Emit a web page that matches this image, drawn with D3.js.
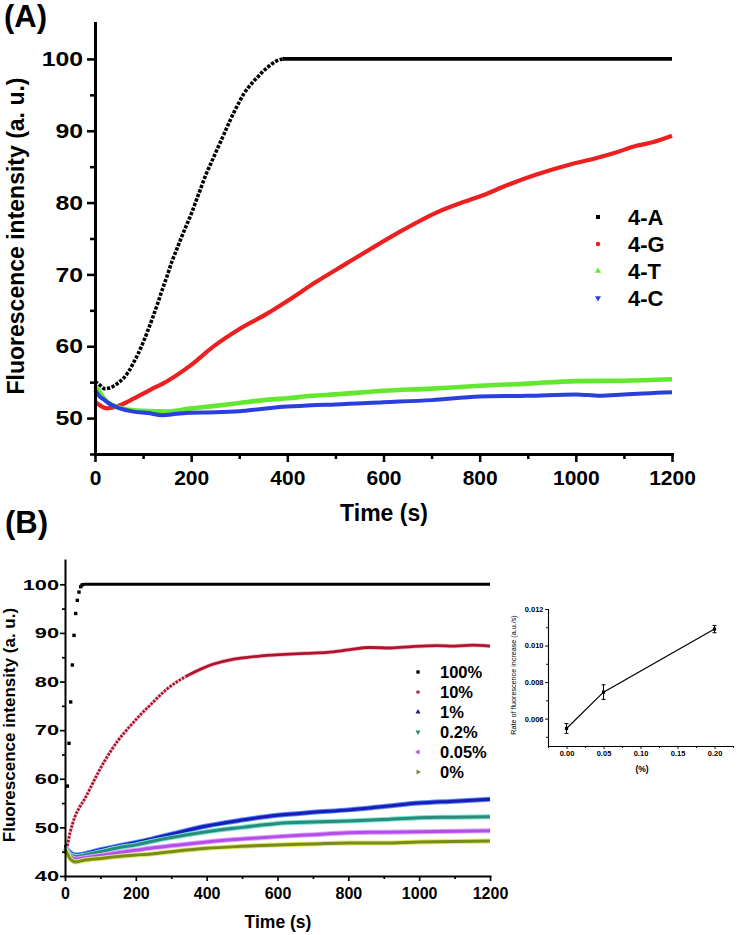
<!DOCTYPE html>
<html><head><meta charset="utf-8">
<script src="https://cdn.jsdelivr.net/npm/d3@7"></script>
<style>
body{margin:0;background:#fff;}
text{font-family:"Liberation Sans",Arial,sans-serif;}
</style></head><body>
<svg id="c" width="737" height="935" xmlns="http://www.w3.org/2000/svg"></svg>
<script>
// ---------- Panel A data ----------
const seriesA = ["4-A", "4-G", "4-T", "4-C"];
const tA_black = [0,10,20,30,40,50,60,70,80,90,100,110,120,130,140,150,160,170,180,190,200,210,220,230,240,250,260,270,280,290,300,310,320,330,340,350,360,370,380,390,400,600,800,1000,1200];
const vA_black = [55.1,54.6,54.1,54.2,54.5,55.0,55.6,56.5,57.7,59.0,60.5,62.2,64.0,65.9,67.9,69.8,71.8,73.5,75.2,76.8,78.4,80.2,82.0,83.8,85.3,86.8,88.3,89.8,91.3,92.7,94.0,95.2,96.1,96.9,97.6,98.3,98.9,99.4,99.8,100,100,100,100,100,100];
const tA_red = [0,12,24,40,52,80,114,149,198,246,298,357,400,461,520,572,641,710,780,814,849,918,988,1043,1080,1126,1160,1200];
const vA_red = [52.3,51.7,51.35,51.5,51.8,52.7,53.9,55.1,57.3,59.95,62.3,64.5,66.3,69.0,71.4,73.5,76.2,78.6,80.4,81.2,82.2,83.9,85.3,86.2,86.9,87.9,88.4,89.3];
const tA_green = [0,10,20,40,60,100,150,200,250,300,350,400,450,500,550,600,700,750,800,900,1000,1100,1200];
const vA_green = [54.5,53.6,52.6,51.7,51.3,51.0,50.9,51.35,51.7,52.1,52.5,52.75,53.1,53.3,53.55,53.8,54.1,54.3,54.5,54.8,55.15,55.2,55.4];
const tA_blue = [0,10,20,30,50,80,110,140,170,200,250,300,350,400,450,500,600,700,800,900,1000,1050,1100,1200];
const vA_blue = [53.9,53.0,52.5,52.0,51.4,50.9,50.7,50.4,50.6,50.75,50.8,50.95,51.3,51.6,51.8,51.9,52.2,52.5,53.0,53.1,53.3,53.1,53.3,53.6];
const xTicksA = [0,200,400,600,800,1000,1200];
const xMinorA = [100,300,500,700,900,1100];
const yTicksA = [50,60,70,80,90,100];
const yMinorA = [45,55,65,75,85,95];

// ---------- Panel B data ----------
const seriesB = ["100%", "10%", "1%", "0.2%", "0.05%", "0%"];
const tB_100 = [2,6.6,11.3,16,20.7,25.4,30.1,34.8,39.5,44.2,48.9,53.6,1200];
const vB_100 = [46,58.5,67.3,75.8,83.4,89.5,94,96.7,98.4,99.5,99.9,100,100];
const tB_10 = [0,5,14,28,40,56,75,94,113,132,150,169,192,216,240,263,287,311,340,370,420,470,520,570,620,680,740,800,860,920,980,1050,1100,1150,1200];
const vB_10 = [45.6,46,48.8,52.2,54,55.9,58.6,61.3,63.8,66,67.9,69.6,71.5,73.4,75.1,76.8,78.4,79.7,81,82.1,83.6,84.5,85,85.4,85.6,85.8,86,86.5,87,86.9,87.2,87.4,87.3,87.5,87.3];
const tB_low = [0,5,15,30,50,100,150,200,250,300,400,500,600,700,800,900,1000,1100,1200];
const vB_1   = [45.8,45.5,44.8,44.3,44.5,45.4,46.2,46.9,47.7,48.6,50.3,51.5,52.5,53.1,53.6,54.3,55.0,55.4,55.8];
const vB_02  = [45.8,45.3,44.4,44.0,44.2,45.0,45.8,46.4,47.2,47.9,49.1,50.0,50.8,51.1,51.3,51.6,52.0,52.1,52.2];
const vB_005 = [45.6,45.0,44.0,43.5,43.7,44.2,44.8,45.3,45.8,46.2,47.0,47.6,48.1,48.5,48.9,49.0,49.1,49.2,49.3];
const vB_0   = [45.5,44.8,43.5,42.9,43.2,43.6,44.0,44.3,44.6,45.0,45.7,46.1,46.4,46.6,46.8,46.8,47.0,47.1,47.2];
const xTicksB = [0,200,400,600,800,1000,1200];
const xMinorB = [100,300,500,700,900,1100];
const yTicksB = [40,50,60,70,80,90,100];
const yMinorB = [45,55,65,75,85,95];

// ---------- Inset data ----------
const inX = [0, 0.05, 0.20];
const inY = [0.00546, 0.00745, 0.0109];
const inErr = [0.00027, 0.0004, 0.0002];
const inXTicks = [0, 0.05, 0.10, 0.15, 0.20];
const inXMinor = [-0.025, 0.025, 0.075, 0.125, 0.175, 0.225];
const inYTicks = [0.006, 0.008, 0.010, 0.012];
const inYMinor = [0.005, 0.007, 0.009, 0.011];

const svg = d3.select("#c");
const zip = (t, v) => t.map((d, i) => ({t: d, v: v[i]}));

function axis(g, gen, scale, majors, minors, fmt, major, minor, pad, sw, fs) {
  g.call(gen(scale).tickValues(majors).tickSize(major).tickSizeOuter(0).tickPadding(pad).tickFormat(fmt));
  g.select(".domain").attr("stroke-width", sw).attr("stroke-linecap", "square");
  g.selectAll(".tick line").attr("stroke-width", sw * 0.85);
  g.selectAll("text").attr("font-size", fs).attr("font-weight", "bold").attr("fill", "#000")
    .style("font-family", '"Liberation Sans",Arial,sans-serif');
  const m = g.append("g").call(gen(scale).tickValues(minors).tickSize(minor).tickSizeOuter(0).tickFormat(""));
  m.select(".domain").remove();
  m.selectAll(".tick line").attr("stroke-width", sw * 0.85);
}
function stretch(g, s, gap) {
  g.selectAll(".tick text").attr("x", -gap / s).attr("transform", `scale(${s},1)`);
}

// ================= Panel A =================
const xA = d3.scaleLinear().domain([0, 1200]).range([95, 672]);
const yA = d3.scaleLinear().domain([45, 105]).range([454, 23]);
const lineA = d3.line().x(d => xA(d.t)).y(d => yA(d.v)).curve(d3.curveMonotoneX);

const gA = svg.append("g");
const blackA = zip(tA_black, vA_black);
gA.append("path").datum(blackA.filter(d => d.t <= 390)).attr("d", lineA)
  .attr("fill", "none").attr("stroke", "#000").attr("stroke-width", 3.6).attr("stroke-dasharray", "3.3,1.5");
gA.append("path").datum(blackA.filter(d => d.t >= 385)).attr("d", lineA)
  .attr("fill", "none").attr("stroke", "#000").attr("stroke-width", 3.6);
gA.append("path").datum(zip(tA_red, vA_red)).attr("d", lineA)
  .attr("fill", "none").attr("stroke", "#ec2020").attr("stroke-width", 4.2);
gA.append("path").datum(zip(tA_green, vA_green)).attr("d", lineA)
  .attr("fill", "none").attr("stroke", "#63e830").attr("stroke-width", 4.6);
gA.append("path").datum(zip(tA_blue, vA_blue)).attr("d", lineA)
  .attr("fill", "none").attr("stroke", "#2b3fdc").attr("stroke-width", 4.0);

const axAx = gA.append("g").attr("transform", "translate(0,454)");
axis(axAx, d3.axisBottom, xA, xTicksA, xMinorA, d3.format("d"), 8, 5, 8, 3, 21);
const axAy = gA.append("g").attr("transform", "translate(95,0)");
axis(axAy, d3.axisLeft, yA, yTicksA, yMinorA, d3.format("d"), 8, 5, 4, 3, 21);
stretch(axAy, 1.18, 12);

gA.append("text").attr("x", 384).attr("y", 521).attr("text-anchor", "middle")
  .attr("font-size", 23).attr("font-weight", "bold").text("Time (s)");
gA.append("text").attr("transform", "translate(24,236) rotate(-90)").attr("text-anchor", "middle")
  .attr("font-size", 23).attr("font-weight", "bold").text("Fluorescence intensity (a. u.)");
gA.append("text").attr("x", 4).attr("y", 27).attr("font-size", 31).attr("font-weight", "bold").text("(A)");

const legA = [
  {sym: d3.symbolSquare, rot: 0, col: "#000"},
  {sym: d3.symbolCircle, rot: 0, col: "#ec2020"},
  {sym: d3.symbolTriangle, rot: 0, col: "#63e830"},
  {sym: d3.symbolTriangle, rot: 180, col: "#2b3fdc"}
];
seriesA.forEach((name, i) => {
  const cy = 217 + i * 27;
  gA.append("path").attr("d", d3.symbol(legA[i].sym, 16)())
    .attr("transform", `translate(598,${cy}) rotate(${legA[i].rot})`).attr("fill", legA[i].col);
  gA.append("text").attr("x", 628).attr("y", cy + 8).attr("font-size", 22).attr("font-weight", "bold").text(name);
});

// ================= Panel B =================
const xB = d3.scaleLinear().domain([0, 1200]).range([65, 490]);
const yB = d3.scaleLinear().domain([40, 105]).range([876, 560]);
const lineB = d3.line().x(d => xB(d.t)).y(d => yB(d.v)).curve(d3.curveMonotoneX);
const gB = svg.append("g");

// 100%
const b100 = zip(tB_100, vB_100);
gB.append("path").datum(b100.slice(9)).attr("d", lineB)
  .attr("fill", "none").attr("stroke", "#000").attr("stroke-width", 3);
gB.selectAll(".sq100").data(b100.slice(0, 11)).enter().append("rect")
  .attr("x", d => xB(d.t) - 1.7).attr("y", d => yB(d.v) - 1.7).attr("width", 3.4).attr("height", 3.4).attr("fill", "#000");

// 10%
const b10 = zip(tB_10, vB_10);
gB.append("path").datum(b10.filter(d => d.t >= 330)).attr("d", lineB)
  .attr("fill", "none").attr("stroke", "#f4a9bd").attr("stroke-width", 4.2).attr("stroke-opacity", 0.8);
gB.append("path").datum(b10.filter(d => d.t <= 340)).attr("d", lineB)
  .attr("fill", "none").attr("stroke", "#f6b6c6").attr("stroke-width", 3.6).attr("stroke-opacity", 0.6);
gB.append("path").datum(b10.filter(d => d.t <= 340)).attr("d", lineB)
  .attr("fill", "none").attr("stroke", "#a8122a").attr("stroke-width", 2.8).attr("stroke-dasharray", "2.4,1.3");
gB.append("path").datum(b10.filter(d => d.t >= 340)).attr("d", lineB)
  .attr("fill", "none").attr("stroke", "#b0142c").attr("stroke-width", 2.8);

const lows = [
  {v: vB_1, main: "#1c1cb4", halo: "#4f86ff"},
  {v: vB_02, main: "#2b8a78", halo: "#72e6d8"},
  {v: vB_005, main: "#b44ee8", halo: "#dfa6ff"},
  {v: vB_0, main: "#7b8a1c", halo: "#dcec66"}
];
lows.forEach(s => {
  const d = zip(tB_low, s.v);
  gB.append("path").datum(d).attr("d", lineB).attr("fill", "none").attr("stroke", s.halo).attr("stroke-width", 5);
  gB.append("path").datum(d).attr("d", lineB).attr("fill", "none").attr("stroke", s.main).attr("stroke-width", 3);
});

const axBx = gB.append("g").attr("transform", "translate(0,876)");
axis(axBx, d3.axisBottom, xB, xTicksB, xMinorB, d3.format("d"), 5, 3, 7, 2, 16);
const axBy = gB.append("g").attr("transform", "translate(65,0)");
axis(axBy, d3.axisLeft, yB, yTicksB, yMinorB, d3.format("d"), 5, 3, 2, 2, 15);
stretch(axBy, 1.45, 6);

gB.append("text").attr("x", 278).attr("y", 928).attr("text-anchor", "middle")
  .attr("font-size", 17.5).attr("font-weight", "bold").text("Time (s)");
gB.append("text").attr("transform", "translate(15,725) rotate(-90)").attr("text-anchor", "middle")
  .attr("font-size", 17).attr("font-weight", "bold").text("Fluorescence intensity (a. u.)");
gB.append("text").attr("x", 5).attr("y", 533).attr("font-size", 31).attr("font-weight", "bold").text("(B)");

const legB = [
  {sym: d3.symbolSquare, rot: 0, col: "#000"},
  {sym: d3.symbolCircle, rot: 0, col: "#a8325a"},
  {sym: d3.symbolTriangle, rot: 0, col: "#1f1f8a"},
  {sym: d3.symbolTriangle, rot: 180, col: "#2b8a78"},
  {sym: d3.symbolTriangle, rot: -90, col: "#b44ee8"},
  {sym: d3.symbolTriangle, rot: 90, col: "#6f8a3c"}
];
seriesB.forEach((name, i) => {
  const cy = 672 + i * 20;
  gB.append("path").attr("d", d3.symbol(legB[i].sym, 11)())
    .attr("transform", `translate(418,${cy}) rotate(${legB[i].rot})`).attr("fill", legB[i].col);
  gB.append("text").attr("x", 440).attr("y", cy + 6).attr("font-size", 16.5).attr("font-weight", "bold").text(name);
});

// ================= Inset =================
const xI = d3.scaleLinear().domain([-0.025, 0.225]).range([548, 733]);
const yI = d3.scaleLinear().domain([0.0045, 0.012]).range([746, 609]);
const gI = svg.append("g");
const inPts = inX.map((x, i) => ({x, y: inY[i], e: inErr[i]}));
gI.append("path").datum(inPts).attr("d", d3.line().x(d => xI(d.x)).y(d => yI(d.y)))
  .attr("fill", "none").attr("stroke", "#000").attr("stroke-width", 1.2);
inPts.forEach(p => {
  const x = xI(p.x), y1 = yI(p.y - p.e), y2 = yI(p.y + p.e);
  gI.append("line").attr("x1", x).attr("x2", x).attr("y1", y1).attr("y2", y2).attr("stroke", "#000").attr("stroke-width", 1);
  [y1, y2].forEach(yy => gI.append("line").attr("x1", x - 2).attr("x2", x + 2).attr("y1", yy).attr("y2", yy).attr("stroke", "#000").attr("stroke-width", 1));
  gI.append("rect").attr("x", x - 1.6).attr("y", yI(p.y) - 1.6).attr("width", 3.2).attr("height", 3.2).attr("fill", "#000");
});
const axIx = gI.append("g").attr("transform", "translate(0,746)");
axis(axIx, d3.axisBottom, xI, inXTicks, inXMinor, d3.format(".2f"), 3, 2, 2, 1.1, 7.5);
const axIy = gI.append("g").attr("transform", "translate(548,0)");
axis(axIy, d3.axisLeft, yI, inYTicks, inYMinor, d3.format(".3f"), 3, 2, 1.5, 1.1, 7.5);
gI.append("text").attr("x", 642).attr("y", 772).attr("text-anchor", "middle")
  .attr("font-size", 8.5).attr("font-weight", "bold").text("(%)");
gI.append("text").attr("transform", "translate(516,675) rotate(-90)").attr("text-anchor", "middle")
  .attr("font-size", 7.2).text("Rate of fluorescence increase (a.u./s)");
</script></body></html>
